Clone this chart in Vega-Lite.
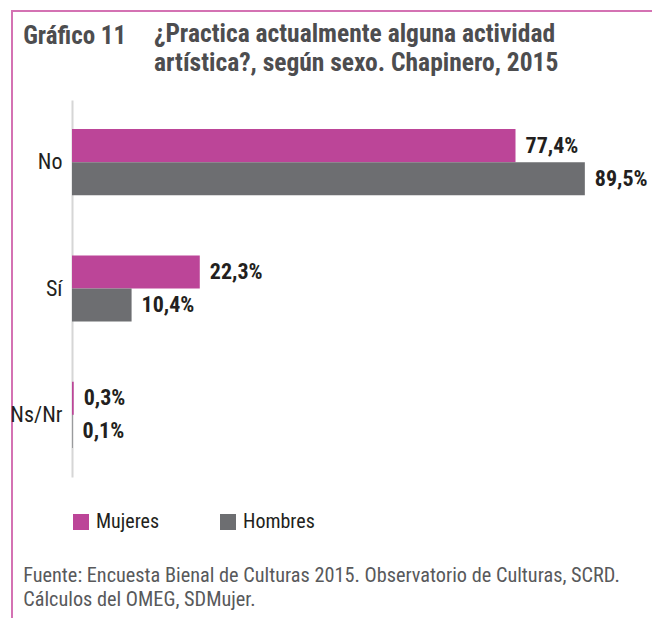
{
  "$schema": "https://vega.github.io/schema/vega-lite/v6.json",
  "autosize": "none",
  "padding": {"left": 12, "top": 11, "right": 0, "bottom": 0},
  "width": 640,
  "height": 607,
  "background": "white",
  "title": {
    "text": ["¿Practica actualmente alguna actividad", "artística?, según sexo. Chapinero, 2015"],
    "anchor": "start",
    "frame": "group",
    "orient": "top",
    "baseline": "top",
    "offset": 0,
    "dx": 142,
    "dy": 65,
    "font": "Roboto Condensed, DejaVu Sans Condensed, sans-serif",
    "fontSize": 25.5,
    "fontWeight": "bold",
    "color": "#4d4d4f",
    "lineHeight": 29
  },
  "data": {
    "values": [
      {"respuesta": "No", "sexo": "Mujeres", "valor": 0.774},
      {"respuesta": "No", "sexo": "Hombres", "valor": 0.895},
      {"respuesta": "Sí", "sexo": "Mujeres", "valor": 0.223},
      {"respuesta": "Sí", "sexo": "Hombres", "valor": 0.104},
      {"respuesta": "Ns/Nr", "sexo": "Mujeres", "valor": 0.003},
      {"respuesta": "Ns/Nr", "sexo": "Hombres", "valor": 0.001}
    ]
  },
  "encoding": {
    "y": {
      "field": "respuesta",
      "type": "nominal",
      "sort": ["No", "Sí", "Ns/Nr"],
      "scale": {"range": [89, 466], "paddingInner": 0.476, "paddingOuter": 0.23},
      "axis": {
        "orient": "left",
        "offset": -60,
        "domainColor": "#d6d6d6",
        "domainWidth": 2,
        "ticks": false,
        "labelPadding": 10,
        "labelFontSize": 22,
        "labelColor": "#231f20",
        "labelFont": "Roboto Condensed, DejaVu Sans Condensed, sans-serif",
        "title": "Gráfico 11",
        "titleAngle": 0,
        "titleAlign": "left",
        "titleBaseline": "alphabetic",
        "titleX": -49.3,
        "titleY": 32.3,
        "titleFontSize": 25,
        "titleFontWeight": "bold",
        "titleColor": "#4d4d4f",
        "titleFont": "Roboto Condensed, DejaVu Sans Condensed, sans-serif"
      }
    },
    "yOffset": {"field": "sexo", "type": "nominal", "sort": ["Mujeres", "Hombres"]},
    "x": {
      "field": "valor",
      "type": "quantitative",
      "scale": {"domain": [-0.1047, 1.0122], "nice": false, "zero": false},
      "axis": {
        "orient": "bottom",
        "labels": false,
        "ticks": false,
        "domain": false,
        "grid": false,
        "title": ["Fuente: Encuesta Bienal de Culturas 2015. Observatorio de Culturas, SCRD.", "Cálculos del OMEG, SDMujer."],
        "titleAnchor": "start",
        "titleAlign": "left",
        "titleBaseline": "alphabetic",
        "titleX": 10.7,
        "titleY": -36.3,
        "titleFontSize": 20.3,
        "titleFontWeight": "normal",
        "titleColor": "#58595b",
        "titleLineHeight": 23.5,
        "titleFont": "Roboto Condensed, DejaVu Sans Condensed, sans-serif"
      }
    }
  },
  "layer": [
    {
      "mark": {"type": "bar"},
      "encoding": {
        "color": {
          "field": "sexo",
          "type": "nominal",
          "sort": ["Mujeres", "Hombres"],
          "scale": {"domain": ["Mujeres", "Hombres"], "range": ["#bc4598", "#6d6e71"]},
          "legend": {
            "title": null,
            "orient": "none",
            "direction": "horizontal",
            "legendX": 59,
            "legendY": 501,
            "symbolType": "square",
            "symbolSize": 256,
            "symbolStrokeWidth": 0,
            "symbolOpacity": 1,
            "labelFontSize": 20,
            "labelColor": "#231f20",
            "labelFont": "Roboto Condensed, DejaVu Sans Condensed, sans-serif",
            "labelOffset": 5,
            "columnPadding": 58,
            "padding": 0
          }
        }
      }
    },
    {
      "mark": {
        "type": "text",
        "align": "left",
        "baseline": "middle",
        "dx": 10,
        "fontSize": 22,
        "fontWeight": "bold",
        "color": "#231f20",
        "font": "Roboto Condensed, DejaVu Sans Condensed, sans-serif"
      },
      "encoding": {
        "text": {"field": "valor", "type": "quantitative", "format": ".1%"}
      }
    }
  ],
  "config": {
    "locale": {"number": {"decimal": ",", "thousands": ".", "grouping": [3], "currency": ["$", ""]}},
    "view": {"stroke": "#d472b3", "strokeWidth": 2, "strokeDash": [640, 1247, 607]}
  }
}
